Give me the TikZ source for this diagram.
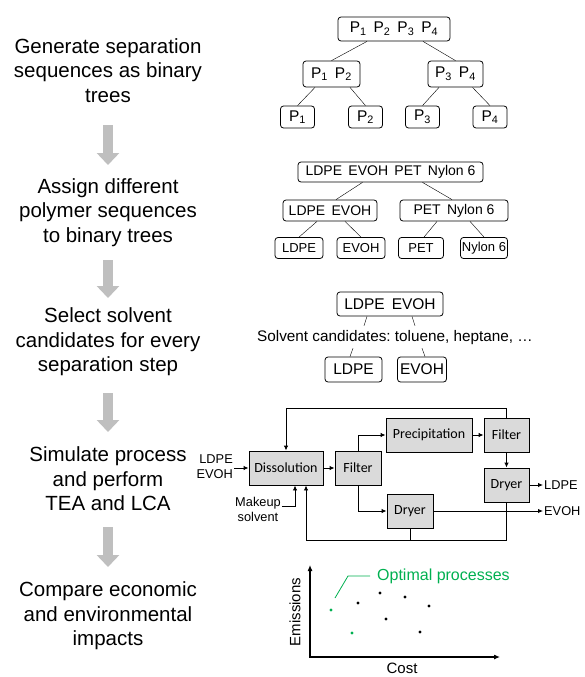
\documentclass[tikz,border=0pt]{standalone}
\usepackage{fontspec}
\setmainfont{Liberation Sans}
\newfontfamily\calibri{Carlito}
\usepackage{xcolor}
\usepackage{tikz}
\usetikzlibrary{arrows.meta, positioning}
\definecolor{arrowGray}{HTML}{BFBFBF}
\definecolor{boxFill}{HTML}{DADADA}
\definecolor{optGreen}{HTML}{00B050}
\newcommand{\Pn}[1]{P\textsubscript{#1}}
\newcommand{\wgap}{\hspace{0.45em}}
\frenchspacing

\begin{document}
\begin{tikzpicture}[x=1pt, y=-1pt,
    steptext/.style={font=\fontsize{20.5}{24.5}\selectfont, align=center, inner sep=0pt, anchor=north},
    bigarrow/.style={arrowGray, line width=10pt, -{Triangle[width=22pt, length=12pt]}},
    tbox/.style={draw, rounded corners=3pt, line width=0.8pt, inner sep=1pt},
    pbox/.style={draw, fill=boxFill, line width=0.9pt, minimum height=34pt, inner sep=1pt,
        font=\calibri\fontsize{14}{16}\selectfont},
    ptext/.style={font=\fontsize{12.8}{15}\selectfont, inner sep=1pt},
    flow/.style={line width=0.9pt, -{Latex[length=5pt, width=4.5pt]}},
    axis/.style={line width=1.1pt, {Latex[length=6pt, width=5pt]}-{Latex[length=6pt, width=5pt]}}]
    \useasboundingbox (0,0) rectangle (585,677);

    % steps on the left
    \node[steptext] (s1) at (108,38.3) {Generate separation\\sequences as binary\\trees};
    \node[steptext] (s2) at (108,178.3) {Assign different\\polymer sequences\\to binary trees};
    \node[steptext] (s3) at (108,307.7) {Select solvent\\candidates for every\\separation step};
    \node[steptext] (s4) at (108,446.7) {Simulate process\\and perform\\TEA and LCA};
    \node[steptext] (s5) at (108,581.7) {Compare economic\\and environmental\\impacts};

    \draw[bigarrow, shorten <=22.7pt, shorten >=13.3pt] (s1.south) -- (s2.north);
    \draw[bigarrow, shorten <=13.4pt, shorten >=9.7pt] (s2.south) -- (s3.north);
    \draw[bigarrow, shorten <=17pt, shorten >=14.7pt] (s3.south) -- (s4.north);
    \draw[bigarrow, shorten <=16.3pt, shorten >=14.7pt] (s4.south) -- (s5.north);

    % binary tree of P1..P4
    \begin{scope}[every node/.append style={font=\fontsize{15.5}{18}\selectfont}]
        \node[tbox, minimum width=112pt, minimum height=24pt] (pall) at (394,29) {\Pn{1}\wgap\Pn{2}\wgap\Pn{3}\wgap\Pn{4}};
        \node[tbox, minimum width=57pt, minimum height=26pt] (p12) at (331.5,74) {\Pn{1}\wgap\Pn{2}};
        \node[tbox, minimum width=55pt, minimum height=26pt] (p34) at (455.5,74) {\Pn{3}\wgap\Pn{4}};
        \node[tbox, minimum width=34pt, minimum height=22pt] (p1) at (297.5,117) {\Pn{1}};
        \node[tbox, minimum width=34pt, minimum height=22pt] (p2) at (365.5,117) {\Pn{2}};
        \node[tbox, minimum width=34pt, minimum height=22pt] (p3) at (422.5,117) {\Pn{3}};
        \node[tbox, minimum width=34pt, minimum height=22pt] (p4) at (490,117) {\Pn{4}};
    \end{scope}
    \draw ([xshift=-27pt]pall.south) -- (p12.north);
    \draw ([xshift=29pt]pall.south) -- (p34.north);
    \draw ([xshift=-16.5pt]p12.south) -- (p1.north);
    \draw ([xshift=18.5pt]p12.south) -- (p2.north);
    \draw ([xshift=-16.5pt]p34.south) -- (p3.north);
    \draw ([xshift=17pt]p34.south) -- (p4.north);

    % binary tree of polymers
    \begin{scope}[every node/.append style={font=\fontsize{14}{16}\selectfont}]
        \node[tbox, minimum width=185pt, minimum height=20pt] (poly) at (390.5,172) {LDPE\wgap EVOH\wgap PET\wgap Nylon 6};
        \node[tbox, minimum width=94pt, minimum height=21pt] (le) at (330,210.5) {LDPE\wgap EVOH};
        \node[tbox, minimum width=108pt, minimum height=21pt] (pn) at (454,210.5) {PET\wgap Nylon 6};
    \end{scope}
    \begin{scope}[every node/.append style={font=\fontsize{13}{15}\selectfont}]
        \node[tbox, minimum width=48pt, minimum height=21pt] (ldpe) at (299,248) {LDPE};
        \node[tbox, minimum width=48pt, minimum height=21pt] (evoh) at (361,248) {EVOH};
        \node[tbox, minimum width=45pt, minimum height=21pt] (pet) at (421,248) {PET};
        \node[tbox, minimum width=47pt, minimum height=21pt] (nylon) at (484,248) {Nylon 6};
    \end{scope}
    \draw ([xshift=-28pt]poly.south) -- ([xshift=6pt]le.north);
    \draw ([xshift=32pt]poly.south) -- ([xshift=-2pt]pn.north);
    \draw ([xshift=-13pt]le.south) -- (ldpe.north);
    \draw ([xshift=15pt]le.south) -- (evoh.north);
    \draw ([xshift=-17pt]pn.south) -- ([xshift=3pt]pet.north);
    \draw ([xshift=16pt]pn.south) -- (nylon.north);

    % solvent selection
    \node[tbox, minimum width=106pt, minimum height=24pt, font=\fontsize{15.5}{18}\selectfont] (sel) at (390,304) {LDPE\wgap EVOH};
    \node[font=\fontsize{15.3}{18}\selectfont, inner xsep=0pt, inner ysep=4pt, text height=11pt, text depth=3pt] (cand) at (395,337) {Solvent candidates: toluene, heptane, \dots};
    \node[tbox, minimum width=57pt, minimum height=25pt, font=\fontsize{15.5}{18}\selectfont] (selL) at (353.5,369.5) {LDPE};
    \node[tbox, minimum width=49pt, minimum height=25pt, font=\fontsize{15.5}{18}\selectfont] (selE) at (422,369.5) {EVOH};
    \draw ([xshift=-23pt]sel.south) -- ([xshift=-31pt]cand.north);
    \draw ([xshift=22pt]sel.south) -- ([xshift=20pt]cand.north);
    \draw ([xshift=-42pt]cand.south) -- ([xshift=-3.5pt]selL.north);
    \draw ([xshift=27pt]cand.south) -- ([xshift=3pt]selE.north);

    % process flowsheet
    \node[pbox, minimum width=74pt] (diss) at (286,468) {Dissolution};
    \node[pbox, minimum width=46pt] (filt1) at (358,468) {Filter};
    \node[pbox, minimum width=86pt] (prec) at (429,435) {Precipitation};
    \node[pbox, minimum width=45pt] (filt2) at (506.5,435) {Filter};
    \node[pbox, minimum width=45pt] (dryU) at (506.5,485) {Dryer};
    \node[pbox, minimum width=46pt] (dryL) at (410,511) {Dryer};

    \node[ptext, align=right, anchor=east] (feed) at (234,467) {LDPE\\EVOH};
    \node[ptext, align=center] (mkup) at (258,509) {Makeup\\solvent};
    \node[ptext, anchor=west] (ldpeOut) at (543,485) {LDPE};
    \node[ptext, anchor=west] (evohOut) at (543,511) {EVOH};
    \coordinate (recyTop) at (0,408);
    \coordinate (recyBot) at (0,540);

    \draw[flow] (feed.east |- diss.west) -- (diss.west);
    \draw[flow] (diss) -- (filt1);
    \draw[flow] (filt1.north) |- (prec.west);
    \draw[flow] (filt1.south) |- (dryL.west);
    \draw[flow] (prec) -- (filt2);
    \draw[flow] (filt2) -- (dryU);
    \draw[flow] (filt2.north) -- (filt2.north |- recyTop) -| (diss.north);
    \draw[flow] (dryU) -- (ldpeOut);
    \draw[flow] (dryL) -- (evohOut);
    \draw[flow] (dryU.south) -- (dryU.south |- recyBot) -| ([xshift=20pt]diss.south);
    \draw[line width=0.9pt] (dryL.south) -- (dryL.south |- recyBot);
    \draw[flow] ([yshift=3pt]mkup.east) -| ([xshift=9pt]diss.south);

    % cost vs emissions
    \coordinate (origin) at (310,657);
    \coordinate (yTop) at (310,565);
    \coordinate (xEnd) at (500,657);
    \draw[axis] (yTop) -- (origin) -- (xEnd);
    \node[rotate=90, font=\fontsize{15}{18}\selectfont] (emis) at (295,612) {Emissions};
    \node[font=\fontsize{15}{18}\selectfont] (cost) at (402,668) {Cost};
    \node[optGreen, anchor=west, inner sep=0pt, font=\fontsize{16}{19}\selectfont] (opt) at (377,576) {Optimal processes};
    \coordinate (optPt) at (335,598);
    \draw[optGreen, line width=0.8pt] ([xshift=-7pt]opt.west) -- ++(-22,0) -- (optPt);
    \foreach \px/\py in {358/603, 380/593, 405/597, 429/606, 386/619, 420/632}
        \fill (\px,\py) circle (1.7pt);
    \foreach \px/\py in {331/610, 352/633}
        \fill[optGreen] (\px,\py) circle (1.7pt);
\end{tikzpicture}
\end{document}
